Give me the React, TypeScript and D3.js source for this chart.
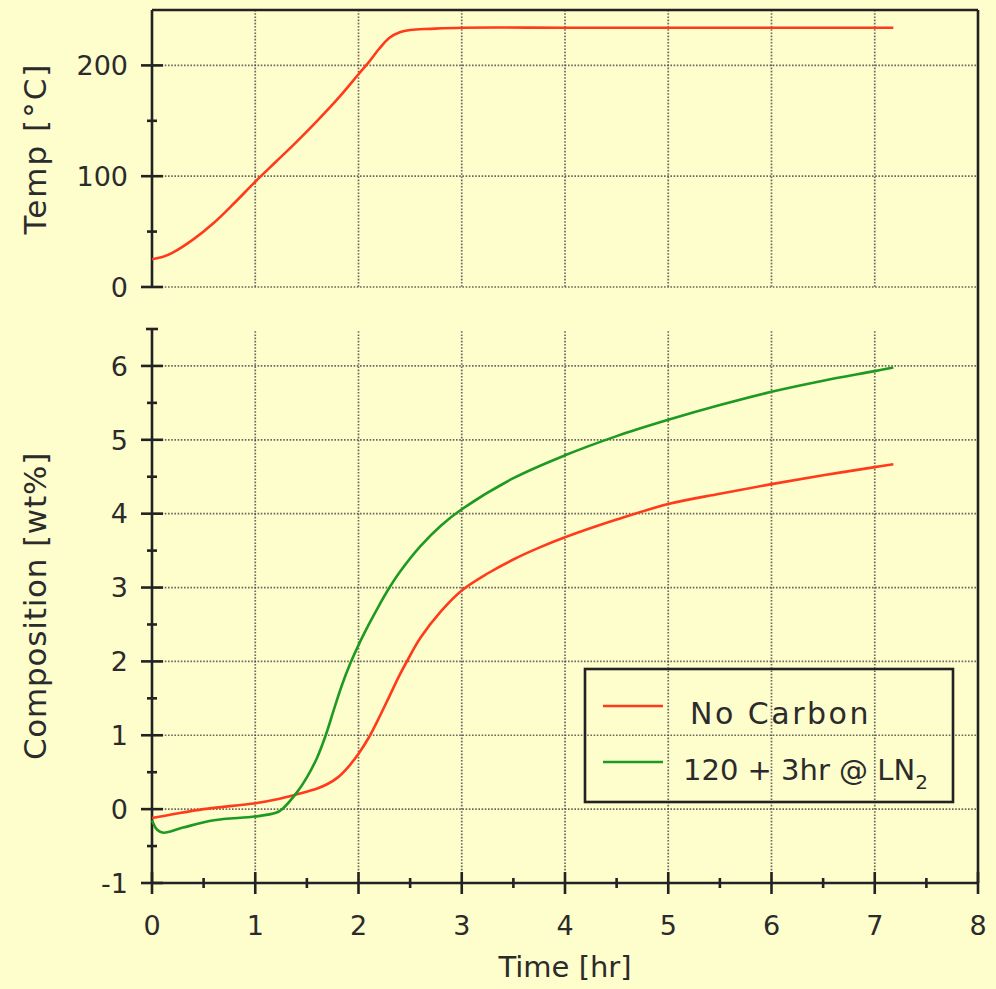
import React from "react";
import * as d3 from "d3";

const tempTime = [0, 0.1, 0.2, 0.4, 0.6, 0.8, 1.0, 1.2, 1.4, 1.6, 1.8, 2.0, 2.1, 2.2, 2.3, 2.4, 2.5, 2.7, 3.0, 4.0, 5.0, 6.0, 7.0, 7.18];
const tempValues = [25, 27, 31, 43, 58, 76, 95, 113, 131, 150, 170, 192, 203, 215, 225, 230, 232, 233, 234, 234, 234, 234, 234, 234];

const noCarbonTime = [0, 0.2, 0.5, 1.0, 1.2, 1.4, 1.6, 1.7, 1.8, 1.9, 2.0, 2.1, 2.2, 2.3, 2.4, 2.5, 2.6, 2.8, 3.0, 3.25, 3.5, 3.75, 4.0, 4.5, 5.0, 5.5, 6.0, 6.5, 7.0, 7.18];
const noCarbonValues = [-0.12, -0.07, 0.0, 0.08, 0.13, 0.2, 0.28, 0.34, 0.43, 0.57, 0.75, 0.97, 1.24, 1.53, 1.82, 2.08, 2.32, 2.68, 2.96, 3.19, 3.38, 3.54, 3.68, 3.92, 4.13, 4.27, 4.4, 4.52, 4.63, 4.67];

const ln2Time = [0, 0.05, 0.11, 0.3, 0.6, 1.0, 1.2, 1.26, 1.4, 1.5, 1.6, 1.68, 1.76, 1.84, 1.92, 2.0, 2.1, 2.2, 2.3, 2.4, 2.6, 2.8, 3.0, 3.5, 4.0, 4.5, 5.0, 5.5, 6.0, 6.5, 7.0, 7.18];
const ln2Values = [-0.15, -0.28, -0.32, -0.25, -0.15, -0.1, -0.05, 0.0, 0.22, 0.43, 0.7, 0.99, 1.34, 1.68, 1.97, 2.22, 2.5, 2.76, 3.0, 3.21, 3.56, 3.84, 4.06, 4.48, 4.79, 5.05, 5.27, 5.47, 5.65, 5.8, 5.93, 5.98];

const xTicks = [0, 1, 2, 3, 4, 5, 6, 7, 8];
const tempTicks = [0, 100, 200];
const compTicks = [-1, 0, 1, 2, 3, 4, 5, 6];

const seriesNames = ["No Carbon", "120 + 3hr @ LN"];

const BG = "#fefdcc";
const AX = "#222";
const TXT = "#2b2b2b";
const RED = "#ff3b1c";
const GREEN = "#1d9a22";
const FONT = "'DejaVu Sans', sans-serif";

export default function App() {
  const left = 152, right = 978;
  const x = d3.scaleLinear().domain([0, 8]).range([left, right]);
  const yT = d3.scaleLinear().domain([0, 250]).range([287, 10]);
  const yC = d3.scaleLinear().domain([-1, 6.5]).range([883, 329]);

  const curve = d3.curveCatmullRom.alpha(0.5);
  const lineT = d3.line<number>().x((_, i) => x(tempTime[i])).y((v) => yT(v)).curve(curve);
  const lineNC = d3.line<number>().x((_, i) => x(noCarbonTime[i])).y((v) => yC(v)).curve(curve);
  const lineLN = d3.line<number>().x((_, i) => x(ln2Time[i])).y((v) => yC(v)).curve(curve);

  const grid = { stroke: "#444", strokeOpacity: 0.8, strokeWidth: 1.7, strokeDasharray: "1.6 1.6" };
  const axisW = 2.6;

  const tMinor = [50, 150];
  const cMinor = [-0.5, 0.5, 1.5, 2.5, 3.5, 4.5, 5.5];
  const xMinor = [0.5, 1.5, 2.5, 3.5, 4.5, 5.5, 6.5, 7.5];

  return (
    <svg width={996} height={989} style={{ position: "absolute", left: 0, top: 0, background: BG }} fontFamily={FONT}>
      <rect x={0} y={0} width={996} height={989} fill={BG} />

      {tempTicks.map((t) => (
        <line key={"tg" + t} x1={left} x2={right} y1={yT(t)} y2={yT(t)} {...grid} />
      ))}
      {xTicks.slice(1, 8).map((t) => (
        <line key={"tvg" + t} x1={x(t)} x2={x(t)} y1={yT(250)} y2={yT(0)} {...grid} />
      ))}
      {compTicks.slice(1).map((t) => (
        <line key={"cg" + t} x1={left} x2={right} y1={yC(t)} y2={yC(t)} {...grid} />
      ))}
      {xTicks.slice(1, 8).map((t) => (
        <line key={"cvg" + t} x1={x(t)} x2={x(t)} y1={yC(6.47)} y2={yC(-1)} {...grid} />
      ))}

      <line x1={left} x2={right} y1={yT(250)} y2={yT(250)} stroke={AX} strokeWidth={axisW} />
      <line x1={right} x2={right} y1={yT(250)} y2={yC(-1)} stroke={AX} strokeWidth={axisW} />
      <line x1={left} x2={left} y1={yT(250)} y2={yT(0)} stroke={AX} strokeWidth={axisW} />
      <line x1={left} x2={left} y1={yC(6.5)} y2={yC(-1)} stroke={AX} strokeWidth={axisW} />
      <line x1={left - 6} x2={left + 6} y1={yC(6.5)} y2={yC(6.5)} stroke={AX} strokeWidth={axisW} />
      <line x1={left} x2={right} y1={yC(-1)} y2={yC(-1)} stroke={AX} strokeWidth={axisW} />

      {tempTicks.map((t) => (
        <g key={"tt" + t}>
          <line x1={left - 11} x2={left + 11} y1={yT(t)} y2={yT(t)} stroke={AX} strokeWidth={axisW} />
          <text x={128} y={yT(t)} dy="0.36em" textAnchor="end" fontSize={27} fill={TXT}>{t}</text>
        </g>
      ))}
      {tMinor.map((t) => (
        <line key={"tm" + t} x1={left - 5} x2={left + 5} y1={yT(t)} y2={yT(t)} stroke={AX} strokeWidth={axisW} />
      ))}
      {compTicks.map((t) => (
        <g key={"ct" + t}>
          <line x1={left - 11} x2={left + 11} y1={yC(t)} y2={yC(t)} stroke={AX} strokeWidth={axisW} />
          <text x={128} y={yC(t)} dy="0.36em" textAnchor="end" fontSize={27} fill={TXT}>{t}</text>
        </g>
      ))}
      {cMinor.map((t) => (
        <line key={"cm" + t} x1={left - 5} x2={left + 5} y1={yC(t)} y2={yC(t)} stroke={AX} strokeWidth={axisW} />
      ))}
      {xTicks.map((t) => (
        <g key={"xt" + t}>
          <line x1={x(t)} x2={x(t)} y1={yC(-1) - 11} y2={yC(-1) + 11} stroke={AX} strokeWidth={axisW} />
          <text x={x(t)} y={935} textAnchor="middle" fontSize={27} fill={TXT}>{t}</text>
        </g>
      ))}
      {xMinor.map((t) => (
        <line key={"xm" + t} x1={x(t)} x2={x(t)} y1={yC(-1) - 5} y2={yC(-1) + 5} stroke={AX} strokeWidth={axisW} />
      ))}

      <text transform={`translate(46,${(yT(0) + yT(250)) / 2}) rotate(-90)`} textAnchor="middle" fontSize={31} letterSpacing={2} fill={TXT}>Temp [°C]</text>
      <text transform={`translate(46,${(yC(-1) + yC(6.5)) / 2}) rotate(-90)`} textAnchor="middle" fontSize={31} letterSpacing={0.8} fill={TXT}>Composition [wt%]</text>
      <text x={(left + right) / 2} y={977} textAnchor="middle" fontSize={29} fill={TXT}>Time [hr]</text>

      <path d={lineT(tempValues) || ""} fill="none" stroke={RED} strokeWidth={2.6} />
      <path d={lineNC(noCarbonValues) || ""} fill="none" stroke={RED} strokeWidth={2.6} />
      <path d={lineLN(ln2Values) || ""} fill="none" stroke={GREEN} strokeWidth={2.6} />

      <rect x={585} y={669} width={368} height={133} fill="none" stroke={AX} strokeWidth={2.6} />
      <line x1={603} x2={663} y1={706} y2={706} stroke={RED} strokeWidth={2.6} />
      <line x1={603} x2={663} y1={762} y2={762} stroke={GREEN} strokeWidth={2.6} />
      <text x={690} y={724} fontSize={30} letterSpacing={2.5} fill={TXT}>{seriesNames[0]}</text>
      <text x={683} y={780} fontSize={29} fill={TXT}>
        {seriesNames[1]}
        <tspan fontSize={20} dy={9}>2</tspan>
      </text>
    </svg>
  );
}
